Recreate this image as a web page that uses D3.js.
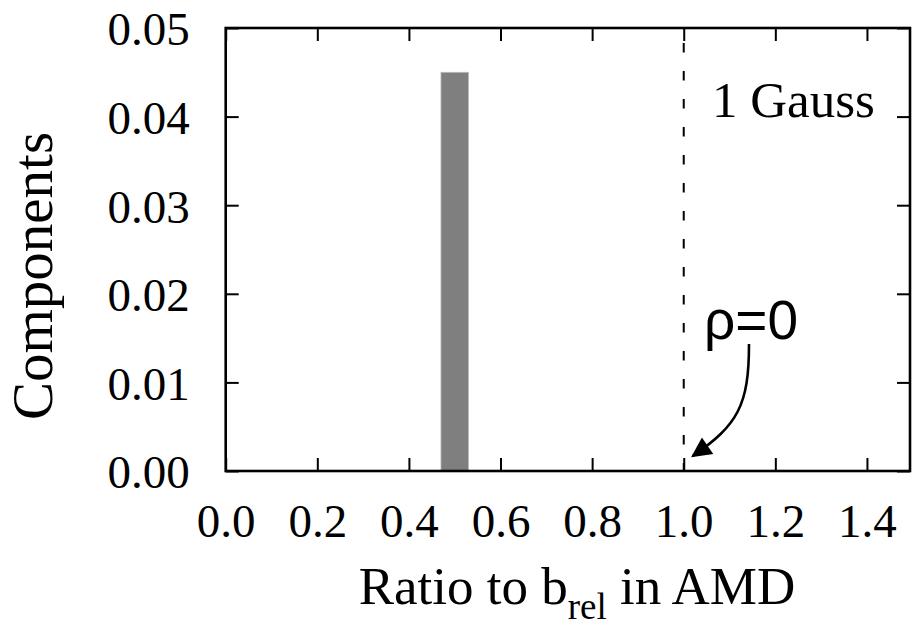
<!DOCTYPE html>
<html>
<head>
<meta charset="utf-8">
<script src="https://cdn.jsdelivr.net/npm/d3@7"></script>
<style>
  html, body { margin: 0; padding: 0; background: #fff; }
  svg { display: block; }
</style>
</head>
<body>
<div id="chart"></div>
<script>
// ---- data ----
const barCenters = [0.5];
const barValues = [0.045];
const barWidth = 0.06;
const xTicks = [0.0, 0.2, 0.4, 0.6, 0.8, 1.0, 1.2, 1.4];
const yTicks = [0.00, 0.01, 0.02, 0.03, 0.04, 0.05];
const xDomain = [0, 1.494];
const yDomain = [0, 0.05];
const refLineX = [1.0];
const labels = { x: ["Ratio to b", "rel", " in AMD"], y: "Components", note: "1 Gauss", rho: "ρ=0" };

// ---- layout ----
const W = 912, H = 627;
const L = 225.7, R = 910, T = 28, B = 471;
const serif = "'Liberation Serif', 'Times New Roman', serif";
const sans = "'Liberation Sans', Arial, sans-serif";

const svg = d3.select("#chart").append("svg").attr("width", W).attr("height", H);

const x = d3.scaleLinear().domain(xDomain).range([L, R]);
const y = d3.scaleLinear().domain(yDomain).range([B, T]);

// bars
svg.append("g").selectAll("rect").data(barCenters).join("rect")
  .attr("x", (d) => x(d - barWidth / 2))
  .attr("width", (d) => x(d + barWidth / 2) - x(d - barWidth / 2))
  .attr("y", (d, i) => y(barValues[i]))
  .attr("height", (d, i) => y(0) - y(barValues[i]))
  .attr("fill", "#7f7f7f")
  .attr("stroke", "#b8b8b8")
  .attr("stroke-width", 0.8);

// dashed reference line
svg.append("g").selectAll("line").data(refLineX).join("line")
  .attr("x1", (d) => x(d)).attr("x2", (d) => x(d))
  .attr("y1", T).attr("y2", B)
  .attr("stroke", "#000").attr("stroke-width", 2)
  .attr("stroke-dasharray", "9.5,18.5")
  .attr("stroke-dashoffset", 13);

// axes (ticks inward, mirrored)
const tickLen = 13;
function styleAxis(g) {
  g.select(".domain").remove();
  g.selectAll(".tick line").attr("stroke", "#000").attr("stroke-width", 2);
  g.selectAll(".tick text").attr("font-family", serif).attr("font-size", 47).attr("fill", "#000");
}
svg.append("g").attr("transform", `translate(0,${B})`)
  .call(d3.axisBottom(x).tickValues(xTicks).tickFormat(d3.format(".1f")).tickSizeInner(-tickLen).tickSizeOuter(0).tickPadding(0))
  .call(styleAxis)
  .call((g) => g.selectAll(".tick text").attr("dy", null).attr("y", 66));
svg.append("g").attr("transform", `translate(0,${T})`)
  .call(d3.axisTop(x).tickValues(xTicks).tickFormat("").tickSizeInner(-tickLen).tickSizeOuter(0))
  .call(styleAxis);
svg.append("g").attr("transform", `translate(${L},0)`)
  .call(d3.axisLeft(y).tickValues(yTicks).tickFormat(d3.format(".2f")).tickSizeInner(-tickLen).tickSizeOuter(0).tickPadding(0))
  .call(styleAxis)
  .call((g) => g.selectAll(".tick text").attr("x", -36).attr("dy", "0.36em"));
svg.append("g").attr("transform", `translate(${R},0)`)
  .call(d3.axisRight(y).tickValues(yTicks).tickFormat("").tickSizeInner(-tickLen).tickSizeOuter(0))
  .call(styleAxis);

// frame
svg.append("rect").attr("x", L).attr("y", T).attr("width", R - L).attr("height", B - T)
  .attr("fill", "none").attr("stroke", "#000").attr("stroke-width", 2.6);

// axis titles
const xt = svg.append("text").attr("x", 577).attr("y", 604)
  .attr("text-anchor", "middle").attr("font-family", serif).attr("font-size", 53).attr("fill", "#000");
xt.append("tspan").text(labels.x[0]);
xt.append("tspan").attr("font-size", 37).attr("dy", 15).text(labels.x[1]);
xt.append("tspan").attr("dy", -15).text(labels.x[2]);

svg.append("text").attr("transform", "translate(52,276) rotate(-90)")
  .attr("text-anchor", "middle").attr("font-family", serif).attr("font-size", 57).attr("fill", "#000")
  .text(labels.y);

// annotations
svg.append("text").attr("x", 712).attr("y", 117).attr("font-family", serif).attr("font-size", 51)
  .attr("fill", "#000").text(labels.note);
svg.append("text").attr("x", 704).attr("y", 339).attr("font-family", sans).attr("font-size", 55)
  .attr("fill", "#000").text(labels.rho);

// curved arrow
const defs = svg.append("defs");
defs.append("marker").attr("id", "ah").attr("viewBox", "0 0 10 10").attr("refX", 9).attr("refY", 5)
  .attr("markerWidth", 25).attr("markerHeight", 20).attr("markerUnits", "userSpaceOnUse").attr("orient", "auto")
  .append("path").attr("d", "M0,0 L10,5 L0,10 Z").attr("fill", "#000");
svg.append("path")
  .attr("d", `M749,344 C749,405 738,425 ${x(1.0) + 9},456`)
  .attr("fill", "none").attr("stroke", "#000").attr("stroke-width", 2.6)
  .attr("marker-end", "url(#ah)");
</script>
</body>
</html>
